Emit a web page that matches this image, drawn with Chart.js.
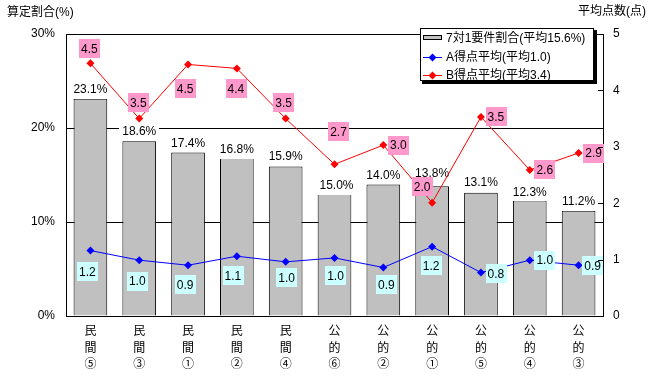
<!DOCTYPE html>
<html>
<head>
<meta charset="utf-8">
<script src="https://cdn.jsdelivr.net/npm/chart.js@4/dist/chart.umd.min.js"></script>
<style>
  html, body { margin: 0; padding: 0; background: #fff; }
</style>
</head>
<body>
<canvas id="chart" width="659" height="386"></canvas>
<script>
// data
var categories = [
  ['民','間','⑤'], ['民','間','③'], ['民','間','①'], ['民','間','②'], ['民','間','④'],
  ['公','的','⑥'], ['公','的','②'], ['公','的','①'], ['公','的','⑤'], ['公','的','④'], ['公','的','③']
];
var shareValues = [23.1, 18.6, 17.4, 16.8, 15.9, 15.0, 14.0, 13.8, 13.1, 12.3, 11.2];
var aScores = [1.16, 0.99, 0.9, 1.06, 0.96, 1.03, 0.86, 1.23, 0.77, 0.99, 0.9];
var bScores = [4.48, 3.5, 4.46, 4.39, 3.5, 2.69, 3.03, 2.01, 3.53, 2.59, 2.89];
var pctMax = 30, pctStep = 10;
var scoreMax = 5, scoreStep = 1;
var seriesNames = ['7対1要件割合(平均15.6%)', 'A得点平均(平均1.0)', 'B得点平均(平均3.4)'];
var leftTitle = '算定割合(%)';
var rightTitle = '平均点数(点)';

// label placement (style only)
var shareLabelDy = [-10, -10, -10, -9, -11, 10, -10, -14, -11, -9, -10];
var shareLabelDx = [0, 0, 0, 0, 0, 2, 0, 0, 0, 0, 0];
var aLabelOff = [[-3,21],[-2,21],[-3,19],[-4,19],[1,16],[1,18],[3,17],[-1,19],[15,1],[15,0],[14,0]];
var bLabelOff = [[-1,-15],[-1,-16],[-3,24],[-1,20],[-2,-16],[4,-33],[15,0],[-10,-16],[15,0],[15,0],[15,0]];

var FONT = '"Liberation Sans", "Noto Sans CJK JP", sans-serif';
Chart.defaults.font.family = FONT;
Chart.defaults.font.size = 12;
Chart.defaults.color = '#000';

function box(ctx, text, cx, cy, bg, padX, h) {
  var w = ctx.measureText(text).width + padX * 2;
  ctx.fillStyle = bg;
  ctx.fillRect(Math.round(cx - w / 2), Math.round(cy - h / 2), Math.round(w), h);
  ctx.fillStyle = '#000';
  ctx.fillText(text, cx, cy + 1);
}

function diamond(ctx, x, y, r, color) {
  ctx.fillStyle = color;
  ctx.beginPath();
  ctx.moveTo(x, y - r); ctx.lineTo(x + r, y); ctx.lineTo(x, y + r); ctx.lineTo(x - r, y);
  ctx.closePath();
  ctx.fill();
}

var extras = {
  id: 'extras',
  afterDatasetDraw: function (chart, args) {
    if (args.index !== 0) return;
    var ctx = chart.ctx;
    ctx.save();
    ctx.font = '12px ' + FONT;
    ctx.textAlign = 'center';
    ctx.textBaseline = 'middle';
    args.meta.data.forEach(function (el, i) {
      box(ctx, shareValues[i].toFixed(1) + '%', el.x + shareLabelDx[i], el.y + shareLabelDy[i], '#fff', 3, 20);
    });
    ctx.restore();
  },
  afterDatasetsDraw: function (chart) {
    var ctx = chart.ctx;
    ctx.save();
    ctx.font = '12px ' + FONT;
    ctx.textAlign = 'center';
    ctx.textBaseline = 'middle';
    chart.getDatasetMeta(1).data.forEach(function (el, i) {
      box(ctx, aScores[i].toFixed(1), el.x + aLabelOff[i][0], el.y + aLabelOff[i][1], '#CCFFFF', 2, 19);
    });
    chart.getDatasetMeta(2).data.forEach(function (el, i) {
      box(ctx, bScores[i].toFixed(1), el.x + bLabelOff[i][0], el.y + bLabelOff[i][1], '#FF99CC', 2, 19);
    });
    ctx.restore();
  },
  afterDraw: function (chart) {
    var ctx = chart.ctx;
    var area = chart.chartArea;
    ctx.save();
    // inward ticks on the right axis
    ctx.strokeStyle = '#000';
    ctx.lineWidth = 1;
    chart.scales.y1.ticks.forEach(function (t) {
      var y = Math.round(chart.scales.y1.getPixelForValue(t.value)) + 0.5;
      ctx.beginPath();
      ctx.moveTo(Math.round(area.right) - 5, y);
      ctx.lineTo(Math.round(area.right), y);
      ctx.stroke();
    });
    // axis titles
    ctx.font = '12px ' + FONT;
    ctx.fillStyle = '#000';
    ctx.textBaseline = 'middle';
    ctx.textAlign = 'left';
    ctx.fillText(leftTitle, 7, 13);
    ctx.fillText(rightTitle, 578, 12);
    // legend
    var lx = 420, ly = 28, lw = 174, lh = 53;
    ctx.fillStyle = '#000';
    ctx.fillRect(lx + 2, ly + 2, lw + 1, lh + 1);
    ctx.fillStyle = '#fff';
    ctx.fillRect(lx, ly, lw, lh);
    ctx.strokeStyle = '#000';
    ctx.strokeRect(lx + 0.5, ly + 0.5, lw - 1, lh - 1);
    var rows = [ly + 10, ly + 29, ly + 47];
    ctx.fillStyle = '#C0C0C0';
    ctx.fillRect(lx + 3, rows[0] - 3, 19, 5);
    ctx.strokeRect(lx + 3.5, rows[0] - 2.5, 18, 4);
    [['#0000FF', rows[1]], ['#FF0000', rows[2]]].forEach(function (r) {
      ctx.strokeStyle = r[0];
      ctx.beginPath();
      ctx.moveTo(lx + 3, r[1] + 0.5);
      ctx.lineTo(lx + 22, r[1] + 0.5);
      ctx.stroke();
      diamond(ctx, lx + 12.5, r[1] + 0.5, 4, r[0]);
    });
    ctx.fillStyle = '#000';
    seriesNames.forEach(function (name, i) {
      ctx.fillText(name, lx + 26, rows[i] + 1);
    });
    ctx.restore();
  }
};

new Chart(document.getElementById('chart'), {
  type: 'bar',
  data: {
    labels: categories,
    datasets: [
      { label: seriesNames[0], data: shareValues, yAxisID: 'y', order: 2,
        backgroundColor: '#C0C0C0', borderColor: '#000', borderWidth: 1,
        barPercentage: 0.69, categoryPercentage: 1 },
      { type: 'line', label: seriesNames[1], data: aScores, yAxisID: 'y1', order: 1,
        borderColor: '#0000FF', borderWidth: 1, backgroundColor: '#0000FF',
        pointStyle: 'rectRot', pointRadius: 4, pointBorderWidth: 0, tension: 0 },
      { type: 'line', label: seriesNames[2], data: bScores, yAxisID: 'y1', order: 1,
        borderColor: '#FF0000', borderWidth: 1, backgroundColor: '#FF0000',
        pointStyle: 'rectRot', pointRadius: 4, pointBorderWidth: 0, tension: 0 }
    ]
  },
  options: {
    responsive: false,
    animation: false,
    devicePixelRatio: 1,
    layout: { padding: { top: 34, left: 0, right: 0, bottom: 0 } },
    plugins: { legend: { display: false }, tooltip: { enabled: false } },
    scales: {
      x: {
        grid: { display: false, drawTicks: false },
        border: { display: true, color: '#000', width: 1 },
        ticks: { padding: 8, maxRotation: 0, autoSkip: false, font: { size: 12, lineHeight: 1.35 } },
        afterFit: function (s) { s.height = 70; }
      },
      y: {
        position: 'left', min: 0, max: pctMax,
        ticks: { stepSize: pctStep, padding: 11, callback: function (v) { return v + '%'; } },
        grid: { color: '#000', lineWidth: 1, drawTicks: false },
        border: { display: true, color: '#000', width: 1 },
        afterFit: function (s) { s.width = 66; }
      },
      y1: {
        position: 'right', min: 0, max: scoreMax,
        ticks: { stepSize: scoreStep, padding: 10 },
        grid: { drawOnChartArea: false, drawTicks: false },
        border: { display: true, color: '#000', width: 1 },
        afterFit: function (s) { s.width = 56; }
      }
    }
  },
  plugins: [extras]
});
</script>
</body>
</html>
